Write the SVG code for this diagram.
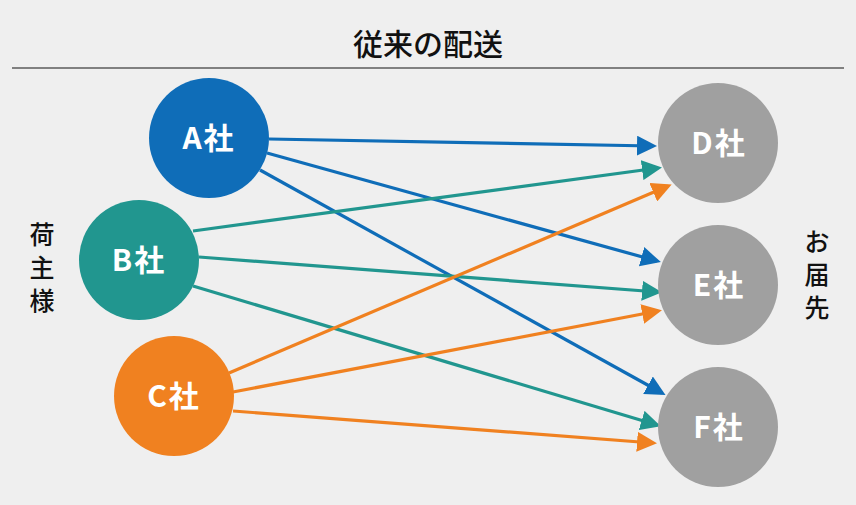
<svg xmlns="http://www.w3.org/2000/svg" width="856" height="505" viewBox="0 0 856 505">
<style>
.t{font-family:"Noto Sans CJK JP","Noto Sans CJK SC",sans-serif;font-weight:500;fill:#111111;}
.n{font-family:"Noto Sans CJK JP","Noto Sans CJK SC",sans-serif;font-weight:bold;font-size:30px;fill:#ffffff;text-anchor:middle;letter-spacing:2px;}
.c line{stroke-width:3.2;fill:none;}
.b{stroke:#0f6db8;}
.g{stroke:#21968f;}
.o{stroke:#f08120;}
</style>
<defs>
<marker id="mb" markerUnits="userSpaceOnUse" markerWidth="20" markerHeight="20" refX="16" refY="10" orient="auto" viewBox="0 0 20 20"><path d="M0,0 L20,10 L0,20 z" fill="#0f6db8"/></marker>
<marker id="mg" markerUnits="userSpaceOnUse" markerWidth="20" markerHeight="20" refX="16" refY="10" orient="auto" viewBox="0 0 20 20"><path d="M0,0 L20,10 L0,20 z" fill="#21968f"/></marker>
<marker id="mo" markerUnits="userSpaceOnUse" markerWidth="20" markerHeight="20" refX="16" refY="10" orient="auto" viewBox="0 0 20 20"><path d="M0,0 L20,10 L0,20 z" fill="#f08120"/></marker>
</defs>
<rect width="856" height="505" fill="#efefef"/>
<text class="t" x="428" y="55" font-size="30" text-anchor="middle">従来の配送</text>
<line x1="12" y1="68" x2="844" y2="68" stroke="#808080" stroke-width="2"/>
<g id="label-left" class="t" font-size="25" text-anchor="middle">
<text x="42" y="244">荷</text>
<text x="42" y="277">主</text>
<text x="42" y="310">様</text>
</g>
<g id="label-right" class="t" font-size="25" text-anchor="middle">
<text x="817" y="251">お</text>
<text x="817" y="284">届</text>
<text x="817" y="317">先</text>
</g>
<g id="connectors" class="c">
<line class="b" x1="269" y1="139" x2="653" y2="146" marker-end="url(#mb)"/>
<line class="b" x1="267" y1="153" x2="657" y2="261" marker-end="url(#mb)"/>
<line class="b" x1="260" y1="170" x2="662" y2="393" marker-end="url(#mb)"/>
<line class="g" x1="193" y1="231" x2="658" y2="168" marker-end="url(#mg)"/>
<line class="g" x1="199" y1="257" x2="658" y2="292" marker-end="url(#mg)"/>
<line class="g" x1="193" y1="286" x2="657" y2="425" marker-end="url(#mg)"/>
<line class="o" x1="229" y1="373" x2="668" y2="186" marker-end="url(#mo)"/>
<line class="o" x1="233" y1="392" x2="658" y2="311" marker-end="url(#mo)"/>
<line class="o" x1="233" y1="411" x2="653" y2="443" marker-end="url(#mo)"/>
</g>
<g id="node-A"><circle cx="209" cy="138" r="60" fill="#0f6db8"/><text class="n" x="209" y="149">A社</text></g>
<g id="node-B"><circle cx="139" cy="260" r="60" fill="#21968f"/><text class="n" x="139" y="271">B社</text></g>
<g id="node-C"><circle cx="174" cy="396" r="60" fill="#f08120"/><text class="n" x="174" y="407">C社</text></g>
<g id="node-D"><circle cx="718" cy="143" r="60" fill="#a0a0a0"/><text class="n" x="719" y="154">D社</text></g>
<g id="node-E"><circle cx="718" cy="285" r="60" fill="#a0a0a0"/><text class="n" x="719" y="296">E社</text></g>
<g id="node-F"><circle cx="718" cy="427" r="60" fill="#a0a0a0"/><text class="n" x="719" y="438">F社</text></g>
</svg>
